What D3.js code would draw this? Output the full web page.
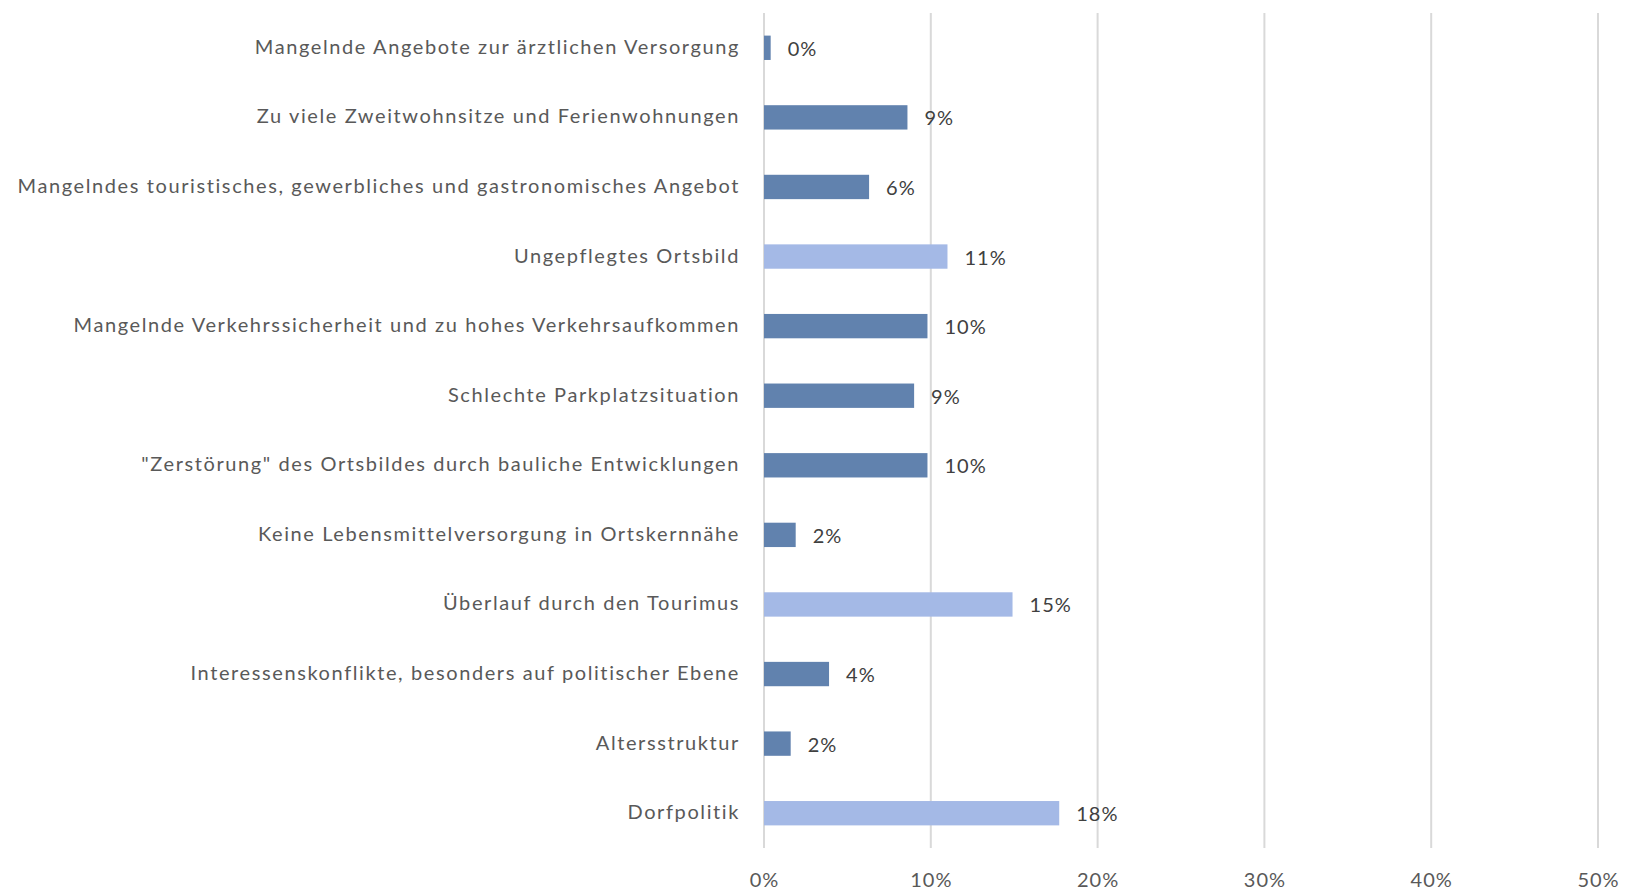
<!DOCTYPE html>
<html>
<head>
<meta charset="utf-8">
<script src="https://cdn.jsdelivr.net/npm/d3@7"></script>
<style>
  html, body { margin: 0; padding: 0; background: #fff; }
  svg text { font-family: "Lato", "Open Sans", sans-serif; }
</style>
</head>
<body>
<div id="chart"></div>
<script>
// categories, top to bottom
const categories = [
  "Mangelnde Angebote zur ärztlichen Versorgung",
  "Zu viele Zweitwohnsitze und Ferienwohnungen",
  "Mangelndes touristisches, gewerbliches und gastronomisches Angebot",
  "Ungepflegtes Ortsbild",
  "Mangelnde Verkehrssicherheit und zu hohes Verkehrsaufkommen",
  "Schlechte Parkplatzsituation",
  "\"Zerstörung\" des Ortsbildes durch bauliche Entwicklungen",
  "Keine Lebensmittelversorgung in Ortskernnähe",
  "Überlauf durch den Tourimus",
  "Interessenskonflikte, besonders auf politischer Ebene",
  "Altersstruktur",
  "Dorfpolitik"
];
const values = [0.004, 0.086, 0.063, 0.110, 0.098, 0.090, 0.098, 0.019, 0.149, 0.039, 0.016, 0.177];
const highlighted = [
  "Ungepflegtes Ortsbild",
  "Überlauf durch den Tourimus",
  "Dorfpolitik"
];
const xTicks = [0, 0.1, 0.2, 0.3, 0.4, 0.5];

const width = 1627, height = 891;
const margin = { top: 13, right: 29, bottom: 43, left: 764 };

const svg = d3.select("#chart").append("svg")
  .attr("width", width)
  .attr("height", height);

const x = d3.scaleLinear()
  .domain([0, 0.5])
  .range([margin.left, width - margin.right]);

const y = d3.scaleBand()
  .domain(categories)
  .range([margin.top, height - margin.bottom])
  .paddingInner(0.65)
  .paddingOuter(0.325);

// gridlines
svg.append("g")
  .selectAll("line")
  .data(xTicks)
  .join("line")
  .attr("x1", d => x(d))
  .attr("x2", d => x(d))
  .attr("y1", margin.top)
  .attr("y2", height - margin.bottom)
  .attr("stroke", "#d9d9d9")
  .attr("stroke-width", 2);

// x axis labels
const xAxis = svg.append("g")
  .attr("transform", `translate(0, ${height - margin.bottom})`)
  .call(d3.axisBottom(x).tickValues(xTicks).tickFormat(d3.format(".0%")).tickSize(0).tickPadding(25));
xAxis.select(".domain").remove();
xAxis.selectAll("text")
  .attr("fill", "#595959")
  .style("font-size", "20px")
  .style("letter-spacing", "1px");

// category labels
const yAxis = svg.append("g")
  .attr("transform", `translate(${margin.left}, 0)`)
  .call(d3.axisLeft(y).tickSize(0).tickPadding(24));
yAxis.select(".domain").remove();
yAxis.selectAll("text")
  .attr("fill", "#595959")
  .attr("dy", "0.3em")
  .style("font-size", "20px")
  .style("letter-spacing", "1.6px");

// bars
svg.append("g")
  .selectAll("rect")
  .data(categories)
  .join("rect")
  .attr("x", x(0))
  .attr("y", d => y(d))
  .attr("width", (d, i) => x(values[i]) - x(0))
  .attr("height", y.bandwidth())
  .attr("fill", d => highlighted.includes(d) ? "#a4b9e6" : "#6182ae");

// value labels
svg.append("g")
  .selectAll("text")
  .data(categories)
  .join("text")
  .attr("x", (d, i) => x(values[i]) + 17)
  .attr("y", d => y(d) + y.bandwidth() / 2)
  .attr("dy", "0.4em")
  .attr("fill", "#404040")
  .style("font-size", "20px")
  .style("letter-spacing", "1px")
  .text((d, i) => d3.format(".0%")(values[i]));
</script>
</body>
</html>
